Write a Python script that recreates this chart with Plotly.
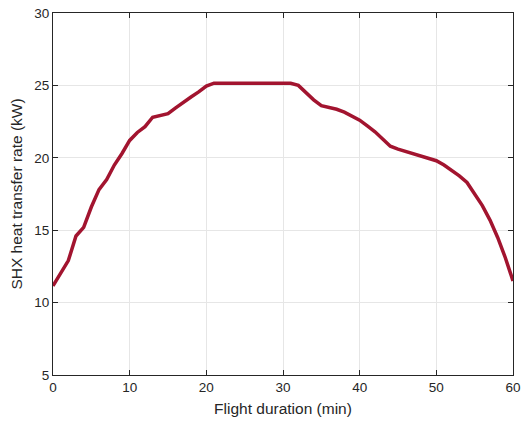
import plotly.graph_objects as go

time_min = list(range(0, 61))
heat_kw = [11.15, 12.0, 12.9, 14.6, 15.2, 16.6, 17.8, 18.5, 19.5, 20.3,
           21.2, 21.75, 22.15, 22.8, 22.95, 23.05, 23.45, 23.85, 24.2, 24.55,
           24.95, 25.15, 25.15, 25.15, 25.15, 25.15, 25.15, 25.15, 25.15, 25.15,
           25.15, 25.15, 25.0, 24.5, 24.0, 23.6, 23.5, 23.35, 23.15, 22.9,
           22.6, 22.2, 21.8, 21.3, 20.8, 20.6, 20.45, 20.3, 20.15, 20.0,
           19.8, 19.5, 19.15, 18.75, 18.3, 17.5, 16.7, 15.7, 14.5, 13.1, 11.5]

x_ticks = [0, 10, 20, 30, 40, 50, 60]
y_ticks = [5, 10, 15, 20, 25, 30]

fig = go.Figure()
fig.add_trace(go.Scatter(x=time_min, y=heat_kw, mode="lines",
                         line=dict(color="#A2142F", width=3.5), showlegend=False))

tick_font = dict(family="Liberation Sans, Arial, sans-serif", size=13.5, color="#262626")
title_font = dict(family="Liberation Sans, Arial, sans-serif", size=15.5, color="#262626")
axis_common = dict(showline=True, linecolor="#262626", linewidth=1, mirror="ticks",
                   ticks="inside", ticklen=5, tickcolor="#262626",
                   showgrid=True, gridcolor="#E6E6E6", gridwidth=1, zeroline=False,
                   tickfont=tick_font, automargin=False, ticklabeloverflow="allow")
fig.update_layout(
    width=521, height=423,
    margin=dict(l=53, r=8, t=13, b=48),
    paper_bgcolor="white", plot_bgcolor="white",
    font=tick_font,
    xaxis=dict(range=[0, 60], tickvals=x_ticks,
               title=dict(text="Flight duration (min)", font=title_font, standoff=8), **axis_common),
    yaxis=dict(range=[5, 30], tickvals=y_ticks,
               title=dict(text="SHX heat transfer rate (kW)", font=title_font, standoff=7), **axis_common),
)
fig.write_html("out.html", config={"displayModeBar": False},
               post_script="document.body.style.margin='0';")
